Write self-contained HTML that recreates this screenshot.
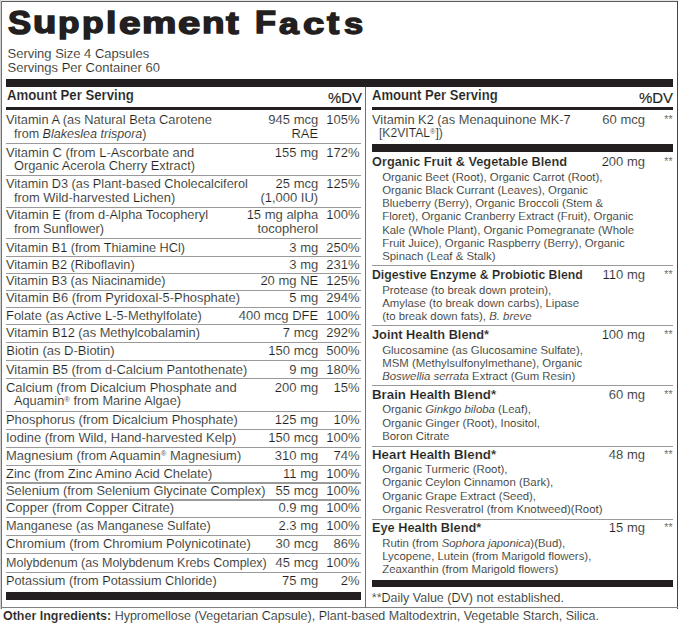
<!DOCTYPE html>
<html><head><meta charset="utf-8"><style>
html,body{margin:0;padding:0;background:#fff;width:679px;height:624px;overflow:hidden;position:relative}
.t{position:absolute;white-space:nowrap;font-family:"Liberation Sans",sans-serif;color:#231f20;-webkit-text-stroke:0.15px #fff}
.r{position:absolute;box-sizing:border-box}
.tg{position:absolute;font-family:"Liberation Sans",sans-serif;font-weight:bold;font-size:32px;line-height:32px;transform-origin:0 0;-webkit-text-stroke:1.5px #231f20;color:#231f20}
sup{font-size:0.6em;vertical-align:0;position:relative;top:-0.45em;color:#555;-webkit-text-stroke:0}
</style></head><body>
<div class="r" style="left:0.00px;top:0.00px;width:679.00px;height:1.00px;background:#e6e6e6"></div>
<div class="r" style="left:0.00px;top:0.00px;width:1.00px;height:609.00px;background:#d0d0d0"></div>
<div class="r" style="left:1.00px;top:1.00px;width:677.00px;height:1.00px;background:#5a5a5a"></div>
<div class="r" style="left:1.00px;top:1.00px;width:1.00px;height:608.00px;background:#707070"></div>
<div class="r" style="left:677.00px;top:1.00px;width:1.00px;height:608.00px;background:#444444"></div>
<div class="r" style="left:1.00px;top:607.20px;width:677.00px;height:1.20px;background:#808080"></div>
<div class="tg" style="left:8.40px;top:5.88px;transform:scale(1.0843,1.0292)">S</div>
<div class="tg" style="left:33.01px;top:7.31px;transform:scale(1.1941,0.9784)">u</div>
<div class="tg" style="left:57.83px;top:8.03px;transform:scale(1.0986,0.9188)">p</div>
<div class="tg" style="left:81.52px;top:8.03px;transform:scale(1.1042,0.9188)">p</div>
<div class="tg" style="left:106.35px;top:7.78px;transform:scale(1.1652,0.9414)">l</div>
<div class="tg" style="left:118.59px;top:7.83px;transform:scale(1.2118,0.9526)">e</div>
<div class="tg" style="left:142.39px;top:7.85px;transform:scale(1.2077,0.9387)">m</div>
<div class="tg" style="left:177.98px;top:7.83px;transform:scale(1.2471,0.9526)">e</div>
<div class="tg" style="left:202.46px;top:7.85px;transform:scale(1.1529,0.9387)">n</div>
<div class="tg" style="left:226.40px;top:6.75px;transform:scale(1.1911,0.9911)">t</div>
<div class="tg" style="left:255.39px;top:6.39px;transform:scale(1.0743,0.9966)">F</div>
<div class="tg" style="left:278.92px;top:7.97px;transform:scale(1.1135,0.9474)">a</div>
<div class="tg" style="left:303.30px;top:7.97px;transform:scale(1.1942,0.9474)">c</div>
<div class="tg" style="left:327.39px;top:6.75px;transform:scale(1.1467,0.9911)">t</div>
<div class="tg" style="left:343.93px;top:8.30px;transform:scale(1.0765,0.9447)">s</div>
<div class="t" style="left:7.50px;top:46.80px;font-size:13px;line-height:13px;font-weight:normal;font-style:normal;">Serving Size 4 Capsules</div>
<div class="t" style="left:7.50px;top:60.70px;font-size:13px;line-height:13px;font-weight:normal;font-style:normal;">Servings Per Container 60</div>
<div class="r" style="left:6.40px;top:79.10px;width:666.60px;height:8.20px;background:#231f20"></div>
<div class="r" style="left:365.10px;top:87.30px;width:1.40px;height:520.70px;background:#707070"></div>
<div class="t" style="left:6.50px;top:89.02px;font-size:13.8px;line-height:13.8px;font-weight:bold;font-style:normal;transform:scaleX(0.9567);transform-origin:0 0;">Amount Per Serving</div>
<div class="t" style="left:327.60px;top:89.63px;font-size:15.5px;line-height:15.5px;font-weight:normal;font-style:normal;transform:scaleX(0.9624);transform-origin:0 0;-webkit-text-stroke:0.15px #231f20;">%DV</div>
<div class="r" style="left:6.30px;top:106.60px;width:355.00px;height:3.90px;background:#231f20"></div>
<div class="t" style="left:6.30px;top:113.20px;font-size:13px;line-height:13px;font-weight:normal;font-style:normal;transform:scaleX(0.987);transform-origin:0 0;">Vitamin A (as Natural Beta Carotene</div>
<div class="t" style="left:14.20px;top:126.60px;font-size:13px;line-height:13px;font-weight:normal;font-style:normal;transform:scaleX(0.9651);transform-origin:0 0;">from <i>Blakeslea trispora</i>)</div>
<div class="t" style="right:360.80px;top:113.20px;font-size:13px;line-height:13px;font-weight:normal;font-style:normal;">945 mcg</div>
<div class="t" style="right:360.80px;top:126.60px;font-size:13px;line-height:13px;font-weight:normal;font-style:normal;">RAE</div>
<div class="t" style="right:319.50px;top:113.20px;font-size:13px;line-height:13px;font-weight:normal;font-style:normal;">105%</div>
<div class="t" style="left:6.30px;top:145.80px;font-size:13px;line-height:13px;font-weight:normal;font-style:normal;transform:scaleX(0.9954);transform-origin:0 0;">Vitamin C (from L-Ascorbate and</div>
<div class="t" style="left:14.20px;top:158.50px;font-size:13px;line-height:13px;font-weight:normal;font-style:normal;transform:scaleX(0.9863);transform-origin:0 0;">Organic Acerola Cherry Extract)</div>
<div class="t" style="right:360.80px;top:145.80px;font-size:13px;line-height:13px;font-weight:normal;font-style:normal;">155 mg</div>
<div class="t" style="right:319.50px;top:145.80px;font-size:13px;line-height:13px;font-weight:normal;font-style:normal;">172%</div>
<div class="t" style="left:6.30px;top:177.30px;font-size:13px;line-height:13px;font-weight:normal;font-style:normal;transform:scaleX(0.9798);transform-origin:0 0;">Vitamin D3 (as Plant-based Cholecalciferol</div>
<div class="t" style="left:14.20px;top:190.50px;font-size:13px;line-height:13px;font-weight:normal;font-style:normal;transform:scaleX(0.9916);transform-origin:0 0;">from Wild-harvested Lichen)</div>
<div class="t" style="right:360.80px;top:177.30px;font-size:13px;line-height:13px;font-weight:normal;font-style:normal;">25 mcg</div>
<div class="t" style="right:360.80px;top:190.50px;font-size:13px;line-height:13px;font-weight:normal;font-style:normal;">(1,000 IU)</div>
<div class="t" style="right:319.50px;top:177.30px;font-size:13px;line-height:13px;font-weight:normal;font-style:normal;">125%</div>
<div class="t" style="left:6.30px;top:208.40px;font-size:13px;line-height:13px;font-weight:normal;font-style:normal;transform:scaleX(0.9906);transform-origin:0 0;">Vitamin E (from d-Alpha Tocopheryl</div>
<div class="t" style="left:14.20px;top:221.50px;font-size:13px;line-height:13px;font-weight:normal;font-style:normal;transform:scaleX(0.982);transform-origin:0 0;">from Sunflower)</div>
<div class="t" style="right:360.80px;top:208.40px;font-size:13px;line-height:13px;font-weight:normal;font-style:normal;">15 mg alpha</div>
<div class="t" style="right:360.80px;top:221.50px;font-size:13px;line-height:13px;font-weight:normal;font-style:normal;">tocopherol</div>
<div class="t" style="right:319.50px;top:208.40px;font-size:13px;line-height:13px;font-weight:normal;font-style:normal;">100%</div>
<div class="t" style="left:6.30px;top:240.70px;font-size:13px;line-height:13px;font-weight:normal;font-style:normal;transform:scaleX(0.9781);transform-origin:0 0;">Vitamin B1 (from Thiamine HCl)</div>
<div class="t" style="right:360.80px;top:240.70px;font-size:13px;line-height:13px;font-weight:normal;font-style:normal;">3 mg</div>
<div class="t" style="right:319.50px;top:240.70px;font-size:13px;line-height:13px;font-weight:normal;font-style:normal;">250%</div>
<div class="t" style="left:6.30px;top:257.50px;font-size:13px;line-height:13px;font-weight:normal;font-style:normal;transform:scaleX(0.9744);transform-origin:0 0;">Vitamin B2 (Riboflavin)</div>
<div class="t" style="right:360.80px;top:257.50px;font-size:13px;line-height:13px;font-weight:normal;font-style:normal;">3 mg</div>
<div class="t" style="right:319.50px;top:257.50px;font-size:13px;line-height:13px;font-weight:normal;font-style:normal;">231%</div>
<div class="t" style="left:6.30px;top:274.40px;font-size:13px;line-height:13px;font-weight:normal;font-style:normal;transform:scaleX(0.9745);transform-origin:0 0;">Vitamin B3 (as Niacinamide)</div>
<div class="t" style="right:360.80px;top:274.40px;font-size:13px;line-height:13px;font-weight:normal;font-style:normal;">20 mg NE</div>
<div class="t" style="right:319.50px;top:274.40px;font-size:13px;line-height:13px;font-weight:normal;font-style:normal;">125%</div>
<div class="t" style="left:6.30px;top:291.40px;font-size:13px;line-height:13px;font-weight:normal;font-style:normal;transform:scaleX(0.9914);transform-origin:0 0;">Vitamin B6 (from Pyridoxal-5-Phosphate)</div>
<div class="t" style="right:360.80px;top:291.40px;font-size:13px;line-height:13px;font-weight:normal;font-style:normal;">5 mg</div>
<div class="t" style="right:319.50px;top:291.40px;font-size:13px;line-height:13px;font-weight:normal;font-style:normal;">294%</div>
<div class="t" style="left:6.30px;top:308.50px;font-size:13px;line-height:13px;font-weight:normal;font-style:normal;transform:scaleX(0.9926);transform-origin:0 0;">Folate (as Active L-5-Methylfolate)</div>
<div class="t" style="right:360.80px;top:308.50px;font-size:13px;line-height:13px;font-weight:normal;font-style:normal;">400 mcg DFE</div>
<div class="t" style="right:319.50px;top:308.50px;font-size:13px;line-height:13px;font-weight:normal;font-style:normal;">100%</div>
<div class="t" style="left:6.30px;top:326.00px;font-size:13px;line-height:13px;font-weight:normal;font-style:normal;transform:scaleX(0.9842);transform-origin:0 0;">Vitamin B12 (as Methylcobalamin)</div>
<div class="t" style="right:360.80px;top:326.00px;font-size:13px;line-height:13px;font-weight:normal;font-style:normal;">7 mcg</div>
<div class="t" style="right:319.50px;top:326.00px;font-size:13px;line-height:13px;font-weight:normal;font-style:normal;">292%</div>
<div class="t" style="left:6.30px;top:344.40px;font-size:13px;line-height:13px;font-weight:normal;font-style:normal;">Biotin (as D-Biotin)</div>
<div class="t" style="right:360.80px;top:344.40px;font-size:13px;line-height:13px;font-weight:normal;font-style:normal;">150 mcg</div>
<div class="t" style="right:319.50px;top:344.40px;font-size:13px;line-height:13px;font-weight:normal;font-style:normal;">500%</div>
<div class="t" style="left:6.30px;top:362.50px;font-size:13px;line-height:13px;font-weight:normal;font-style:normal;transform:scaleX(0.989);transform-origin:0 0;">Vitamin B5 (from d-Calcium Pantothenate)</div>
<div class="t" style="right:360.80px;top:362.50px;font-size:13px;line-height:13px;font-weight:normal;font-style:normal;">9 mg</div>
<div class="t" style="right:319.50px;top:362.50px;font-size:13px;line-height:13px;font-weight:normal;font-style:normal;">180%</div>
<div class="t" style="left:6.30px;top:380.60px;font-size:13px;line-height:13px;font-weight:normal;font-style:normal;transform:scaleX(0.9947);transform-origin:0 0;">Calcium (from Dicalcium Phosphate and</div>
<div class="t" style="left:14.20px;top:394.40px;font-size:13px;line-height:13px;font-weight:normal;font-style:normal;transform:scaleX(0.9795);transform-origin:0 0;">Aquamin<sup>®</sup> from Marine Algae)</div>
<div class="t" style="right:360.80px;top:380.60px;font-size:13px;line-height:13px;font-weight:normal;font-style:normal;">200 mg</div>
<div class="t" style="right:319.50px;top:380.60px;font-size:13px;line-height:13px;font-weight:normal;font-style:normal;">15%</div>
<div class="t" style="left:6.30px;top:412.90px;font-size:13px;line-height:13px;font-weight:normal;font-style:normal;transform:scaleX(0.9928);transform-origin:0 0;">Phosphorus (from Dicalcium Phosphate)</div>
<div class="t" style="right:360.80px;top:412.90px;font-size:13px;line-height:13px;font-weight:normal;font-style:normal;">125 mg</div>
<div class="t" style="right:319.50px;top:412.90px;font-size:13px;line-height:13px;font-weight:normal;font-style:normal;">10%</div>
<div class="t" style="left:6.30px;top:431.00px;font-size:13px;line-height:13px;font-weight:normal;font-style:normal;transform:scaleX(0.9925);transform-origin:0 0;">Iodine (from Wild, Hand-harvested Kelp)</div>
<div class="t" style="right:360.80px;top:431.00px;font-size:13px;line-height:13px;font-weight:normal;font-style:normal;">150 mcg</div>
<div class="t" style="right:319.50px;top:431.00px;font-size:13px;line-height:13px;font-weight:normal;font-style:normal;">100%</div>
<div class="t" style="left:6.30px;top:448.90px;font-size:13px;line-height:13px;font-weight:normal;font-style:normal;transform:scaleX(0.9956);transform-origin:0 0;">Magnesium (from Aquamin<sup>®</sup> Magnesium)</div>
<div class="t" style="right:360.80px;top:448.90px;font-size:13px;line-height:13px;font-weight:normal;font-style:normal;">310 mg</div>
<div class="t" style="right:319.50px;top:448.90px;font-size:13px;line-height:13px;font-weight:normal;font-style:normal;">74%</div>
<div class="t" style="left:6.30px;top:466.70px;font-size:13px;line-height:13px;font-weight:normal;font-style:normal;transform:scaleX(0.9949);transform-origin:0 0;">Zinc (from Zinc Amino Acid Chelate)</div>
<div class="t" style="right:360.80px;top:466.70px;font-size:13px;line-height:13px;font-weight:normal;font-style:normal;">11 mg</div>
<div class="t" style="right:319.50px;top:466.70px;font-size:13px;line-height:13px;font-weight:normal;font-style:normal;">100%</div>
<div class="t" style="left:6.30px;top:483.80px;font-size:13px;line-height:13px;font-weight:normal;font-style:normal;transform:scaleX(0.9864);transform-origin:0 0;">Selenium (from Selenium Glycinate Complex)</div>
<div class="t" style="right:360.80px;top:483.80px;font-size:13px;line-height:13px;font-weight:normal;font-style:normal;">55 mcg</div>
<div class="t" style="right:319.50px;top:483.80px;font-size:13px;line-height:13px;font-weight:normal;font-style:normal;">100%</div>
<div class="t" style="left:6.30px;top:500.50px;font-size:13px;line-height:13px;font-weight:normal;font-style:normal;transform:scaleX(0.9943);transform-origin:0 0;">Copper (from Copper Citrate)</div>
<div class="t" style="right:360.80px;top:500.50px;font-size:13px;line-height:13px;font-weight:normal;font-style:normal;">0.9 mg</div>
<div class="t" style="right:319.50px;top:500.50px;font-size:13px;line-height:13px;font-weight:normal;font-style:normal;">100%</div>
<div class="t" style="left:6.30px;top:519.30px;font-size:13px;line-height:13px;font-weight:normal;font-style:normal;transform:scaleX(0.9772);transform-origin:0 0;">Manganese (as Manganese Sulfate)</div>
<div class="t" style="right:360.80px;top:519.30px;font-size:13px;line-height:13px;font-weight:normal;font-style:normal;">2.3 mg</div>
<div class="t" style="right:319.50px;top:519.30px;font-size:13px;line-height:13px;font-weight:normal;font-style:normal;">100%</div>
<div class="t" style="left:6.30px;top:537.00px;font-size:13px;line-height:13px;font-weight:normal;font-style:normal;transform:scaleX(0.9937);transform-origin:0 0;">Chromium (from Chromium Polynicotinate)</div>
<div class="t" style="right:360.80px;top:537.00px;font-size:13px;line-height:13px;font-weight:normal;font-style:normal;">30 mcg</div>
<div class="t" style="right:319.50px;top:537.00px;font-size:13px;line-height:13px;font-weight:normal;font-style:normal;">86%</div>
<div class="t" style="left:6.30px;top:556.40px;font-size:13px;line-height:13px;font-weight:normal;font-style:normal;transform:scaleX(0.9625);transform-origin:0 0;">Molybdenum (as Molybdenum Krebs Complex)</div>
<div class="t" style="right:360.80px;top:556.40px;font-size:13px;line-height:13px;font-weight:normal;font-style:normal;">45 mcg</div>
<div class="t" style="right:319.50px;top:556.40px;font-size:13px;line-height:13px;font-weight:normal;font-style:normal;">100%</div>
<div class="t" style="left:6.30px;top:573.90px;font-size:13px;line-height:13px;font-weight:normal;font-style:normal;transform:scaleX(0.9786);transform-origin:0 0;">Potassium (from Potassium Chloride)</div>
<div class="t" style="right:360.80px;top:573.90px;font-size:13px;line-height:13px;font-weight:normal;font-style:normal;">75 mg</div>
<div class="t" style="right:319.50px;top:573.90px;font-size:13px;line-height:13px;font-weight:normal;font-style:normal;">2%</div>
<div class="r" style="left:6.30px;top:142.75px;width:355.00px;height:1.10px;background:#9a9a9a"></div>
<div class="r" style="left:6.30px;top:174.75px;width:355.00px;height:1.10px;background:#9a9a9a"></div>
<div class="r" style="left:6.30px;top:206.65px;width:355.00px;height:1.10px;background:#9a9a9a"></div>
<div class="r" style="left:6.30px;top:237.95px;width:355.00px;height:1.10px;background:#9a9a9a"></div>
<div class="r" style="left:6.30px;top:255.95px;width:355.00px;height:1.10px;background:#9a9a9a"></div>
<div class="r" style="left:6.30px;top:272.85px;width:355.00px;height:1.10px;background:#9a9a9a"></div>
<div class="r" style="left:6.30px;top:289.65px;width:355.00px;height:1.10px;background:#9a9a9a"></div>
<div class="r" style="left:6.30px;top:306.55px;width:355.00px;height:1.10px;background:#9a9a9a"></div>
<div class="r" style="left:6.30px;top:323.95px;width:355.00px;height:1.10px;background:#9a9a9a"></div>
<div class="r" style="left:6.30px;top:342.05px;width:355.00px;height:1.10px;background:#9a9a9a"></div>
<div class="r" style="left:6.30px;top:359.95px;width:355.00px;height:1.10px;background:#9a9a9a"></div>
<div class="r" style="left:6.30px;top:377.95px;width:355.00px;height:1.10px;background:#9a9a9a"></div>
<div class="r" style="left:6.30px;top:410.80px;width:355.00px;height:1.10px;background:#9a9a9a"></div>
<div class="r" style="left:6.30px;top:428.95px;width:355.00px;height:1.10px;background:#9a9a9a"></div>
<div class="r" style="left:6.30px;top:446.75px;width:355.00px;height:1.10px;background:#9a9a9a"></div>
<div class="r" style="left:6.30px;top:464.95px;width:355.00px;height:1.10px;background:#9a9a9a"></div>
<div class="r" style="left:6.30px;top:482.45px;width:355.00px;height:1.10px;background:#9a9a9a"></div>
<div class="r" style="left:6.30px;top:499.45px;width:355.00px;height:1.10px;background:#9a9a9a"></div>
<div class="r" style="left:6.30px;top:516.85px;width:355.00px;height:1.10px;background:#9a9a9a"></div>
<div class="r" style="left:6.30px;top:534.95px;width:355.00px;height:1.10px;background:#9a9a9a"></div>
<div class="r" style="left:6.30px;top:552.55px;width:355.00px;height:1.10px;background:#9a9a9a"></div>
<div class="r" style="left:6.30px;top:572.05px;width:355.00px;height:1.10px;background:#9a9a9a"></div>
<div class="r" style="left:6.30px;top:592.10px;width:355.20px;height:7.70px;background:#231f20"></div>
<div class="t" style="left:372.30px;top:89.02px;font-size:13.8px;line-height:13.8px;font-weight:bold;font-style:normal;transform:scaleX(0.9477);transform-origin:0 0;">Amount Per Serving</div>
<div class="t" style="left:639.00px;top:89.63px;font-size:15.5px;line-height:15.5px;font-weight:normal;font-style:normal;transform:scaleX(0.9624);transform-origin:0 0;-webkit-text-stroke:0.15px #231f20;">%DV</div>
<div class="r" style="left:371.60px;top:106.60px;width:301.30px;height:3.90px;background:#231f20"></div>
<div class="t" style="left:372.30px;top:113.20px;font-size:13px;line-height:13px;font-weight:normal;font-style:normal;transform:scaleX(0.9862);transform-origin:0 0;">Vitamin K2 (as Menaquinone MK-7</div>
<div class="t" style="left:379.30px;top:126.40px;font-size:13px;line-height:13px;font-weight:normal;font-style:normal;transform:scaleX(0.9343);transform-origin:0 0;">[K2VITAL<sup>®</sup>])</div>
<div class="t" style="right:34.00px;top:113.20px;font-size:13px;line-height:13px;font-weight:normal;font-style:normal;">60 mcg</div>
<div class="t" style="right:6.50px;top:114.11px;font-size:10.5px;line-height:10.5px;font-weight:normal;font-style:normal;">**</div>
<div class="r" style="left:371.60px;top:144.20px;width:301.30px;height:7.40px;background:#231f20"></div>
<div class="t" style="left:372.30px;top:156.07px;font-size:12.2px;line-height:12.2px;font-weight:bold;font-style:normal;transform:scaleX(1.0471);transform-origin:0 0;">Organic Fruit &amp; Vegetable Blend</div>
<div class="t" style="right:34.00px;top:155.40px;font-size:13px;line-height:13px;font-weight:normal;font-style:normal;">200 mg</div>
<div class="t" style="right:6.50px;top:156.31px;font-size:10.5px;line-height:10.5px;font-weight:normal;font-style:normal;">**</div>
<div class="t" style="left:382.20px;top:171.55px;font-size:11.4px;line-height:11.4px;font-weight:normal;font-style:normal;">Organic Beet (Root), Organic Carrot (Root),</div>
<div class="t" style="left:382.20px;top:184.75px;font-size:11.4px;line-height:11.4px;font-weight:normal;font-style:normal;">Organic Black Currant (Leaves), Organic</div>
<div class="t" style="left:382.20px;top:197.65px;font-size:11.4px;line-height:11.4px;font-weight:normal;font-style:normal;">Blueberry (Berry), Organic Broccoli (Stem &amp;</div>
<div class="t" style="left:382.20px;top:211.15px;font-size:11.4px;line-height:11.4px;font-weight:normal;font-style:normal;">Floret), Organic Cranberry Extract (Fruit), Organic</div>
<div class="t" style="left:382.20px;top:224.65px;font-size:11.4px;line-height:11.4px;font-weight:normal;font-style:normal;">Kale (Whole Plant), Organic Pomegranate (Whole</div>
<div class="t" style="left:382.20px;top:237.55px;font-size:11.4px;line-height:11.4px;font-weight:normal;font-style:normal;">Fruit Juice), Organic Raspberry (Berry), Organic</div>
<div class="t" style="left:382.20px;top:250.55px;font-size:11.4px;line-height:11.4px;font-weight:normal;font-style:normal;">Spinach (Leaf &amp; Stalk)</div>
<div class="t" style="left:372.30px;top:268.57px;font-size:12.2px;line-height:12.2px;font-weight:bold;font-style:normal;transform:scaleX(1.0069);transform-origin:0 0;">Digestive Enzyme &amp; Probiotic Blend</div>
<div class="t" style="right:34.00px;top:267.90px;font-size:13px;line-height:13px;font-weight:normal;font-style:normal;">110 mg</div>
<div class="t" style="right:6.50px;top:268.81px;font-size:10.5px;line-height:10.5px;font-weight:normal;font-style:normal;">**</div>
<div class="t" style="left:382.20px;top:284.65px;font-size:11.4px;line-height:11.4px;font-weight:normal;font-style:normal;">Protease (to break down protein),</div>
<div class="t" style="left:382.20px;top:297.95px;font-size:11.4px;line-height:11.4px;font-weight:normal;font-style:normal;">Amylase (to break down carbs), Lipase</div>
<div class="t" style="left:382.20px;top:310.85px;font-size:11.4px;line-height:11.4px;font-weight:normal;font-style:normal;">(to break down fats), <i>B. breve</i></div>
<div class="t" style="left:372.30px;top:329.07px;font-size:12.2px;line-height:12.2px;font-weight:bold;font-style:normal;transform:scaleX(1.048);transform-origin:0 0;">Joint Health Blend*</div>
<div class="t" style="right:34.00px;top:328.40px;font-size:13px;line-height:13px;font-weight:normal;font-style:normal;">100 mg</div>
<div class="t" style="right:6.50px;top:329.31px;font-size:10.5px;line-height:10.5px;font-weight:normal;font-style:normal;">**</div>
<div class="t" style="left:382.20px;top:344.65px;font-size:11.4px;line-height:11.4px;font-weight:normal;font-style:normal;">Glucosamine (as Glucosamine Sulfate),</div>
<div class="t" style="left:382.20px;top:357.75px;font-size:11.4px;line-height:11.4px;font-weight:normal;font-style:normal;">MSM (Methylsulfonylmethane), Organic</div>
<div class="t" style="left:382.20px;top:370.85px;font-size:11.4px;line-height:11.4px;font-weight:normal;font-style:normal;"><i>Boswellia serrata</i> Extract (Gum Resin)</div>
<div class="t" style="left:372.30px;top:388.57px;font-size:12.2px;line-height:12.2px;font-weight:bold;font-style:normal;transform:scaleX(1.0907);transform-origin:0 0;">Brain Health Blend*</div>
<div class="t" style="right:34.00px;top:387.90px;font-size:13px;line-height:13px;font-weight:normal;font-style:normal;">60 mg</div>
<div class="t" style="right:6.50px;top:388.81px;font-size:10.5px;line-height:10.5px;font-weight:normal;font-style:normal;">**</div>
<div class="t" style="left:382.20px;top:404.35px;font-size:11.4px;line-height:11.4px;font-weight:normal;font-style:normal;">Organic <i>Ginkgo biloba</i> (Leaf),</div>
<div class="t" style="left:382.20px;top:418.05px;font-size:11.4px;line-height:11.4px;font-weight:normal;font-style:normal;">Organic Ginger (Root), Inositol,</div>
<div class="t" style="left:382.20px;top:430.85px;font-size:11.4px;line-height:11.4px;font-weight:normal;font-style:normal;">Boron Citrate</div>
<div class="t" style="left:372.30px;top:448.77px;font-size:12.2px;line-height:12.2px;font-weight:bold;font-style:normal;transform:scaleX(1.0907);transform-origin:0 0;">Heart Health Blend*</div>
<div class="t" style="right:34.00px;top:448.10px;font-size:13px;line-height:13px;font-weight:normal;font-style:normal;">48 mg</div>
<div class="t" style="right:6.50px;top:449.01px;font-size:10.5px;line-height:10.5px;font-weight:normal;font-style:normal;">**</div>
<div class="t" style="left:382.20px;top:464.25px;font-size:11.4px;line-height:11.4px;font-weight:normal;font-style:normal;">Organic Turmeric (Root),</div>
<div class="t" style="left:382.20px;top:477.45px;font-size:11.4px;line-height:11.4px;font-weight:normal;font-style:normal;">Organic Ceylon Cinnamon (Bark),</div>
<div class="t" style="left:382.20px;top:490.55px;font-size:11.4px;line-height:11.4px;font-weight:normal;font-style:normal;">Organic Grape Extract (Seed),</div>
<div class="t" style="left:382.20px;top:503.95px;font-size:11.4px;line-height:11.4px;font-weight:normal;font-style:normal;">Organic Resveratrol (from Knotweed)(Root)</div>
<div class="t" style="left:372.30px;top:521.97px;font-size:12.2px;line-height:12.2px;font-weight:bold;font-style:normal;transform:scaleX(1.0478);transform-origin:0 0;">Eye Health Blend*</div>
<div class="t" style="right:34.00px;top:521.30px;font-size:13px;line-height:13px;font-weight:normal;font-style:normal;">15 mg</div>
<div class="t" style="right:6.50px;top:522.21px;font-size:10.5px;line-height:10.5px;font-weight:normal;font-style:normal;">**</div>
<div class="t" style="left:382.20px;top:537.75px;font-size:11.4px;line-height:11.4px;font-weight:normal;font-style:normal;">Rutin (from <i>Sophora japonica</i>)(Bud),</div>
<div class="t" style="left:382.20px;top:551.05px;font-size:11.4px;line-height:11.4px;font-weight:normal;font-style:normal;">Lycopene, Lutein (from Marigold flowers),</div>
<div class="t" style="left:382.20px;top:564.35px;font-size:11.4px;line-height:11.4px;font-weight:normal;font-style:normal;">Zeaxanthin (from Marigold flowers)</div>
<div class="r" style="left:371.60px;top:265.15px;width:301.30px;height:1.10px;background:#9a9a9a"></div>
<div class="r" style="left:371.60px;top:324.75px;width:301.30px;height:1.10px;background:#9a9a9a"></div>
<div class="r" style="left:371.60px;top:384.85px;width:301.30px;height:1.10px;background:#9a9a9a"></div>
<div class="r" style="left:371.60px;top:445.75px;width:301.30px;height:1.10px;background:#9a9a9a"></div>
<div class="r" style="left:371.60px;top:518.80px;width:301.30px;height:1.10px;background:#9a9a9a"></div>
<div class="r" style="left:371.60px;top:579.90px;width:301.30px;height:7.30px;background:#231f20"></div>
<div class="t" style="left:371.80px;top:591.52px;font-size:12.5px;line-height:12.5px;font-weight:normal;font-style:normal;">**Daily Value (DV) not established.</div>
<div class="t" style="left:3.30px;top:610.15px;font-size:12.7px;line-height:12.7px;font-weight:normal;font-style:normal;transform:scaleX(0.9839);transform-origin:0 0;"><b>Other Ingredients:</b> Hypromellose (Vegetarian Capsule), Plant-based Maltodextrin, Vegetable Starch, Silica.</div>
</body></html>
